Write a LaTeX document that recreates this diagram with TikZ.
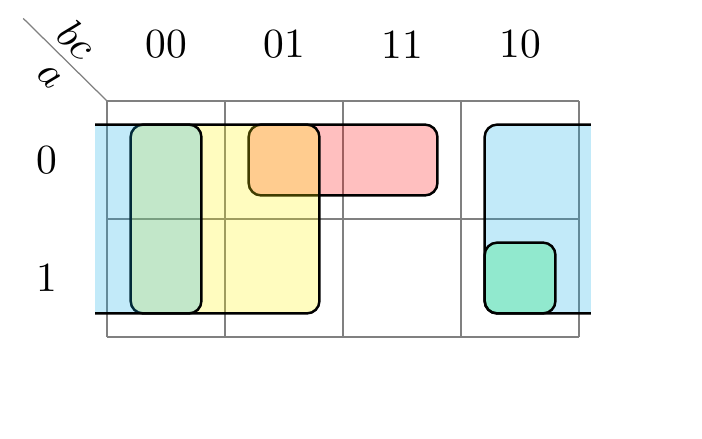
\documentclass[tikz,border=0pt]{standalone}
\definecolor{kmblue}{RGB}{11,171,231}
\definecolor{kmyellow}{RGB}{255,242,0}
\definecolor{kmred}{RGB}{255,0,0}
\definecolor{kmgreen}{RGB}{0,230,80}
\begin{document}
\begin{tikzpicture}[
  % Label styles
  lbl/.style={font=\normalsize, inner sep=1pt},
  corner/.style={lbl, rotate=-45, inner sep=0pt},
  % Grid style
  kmgrid/.style={gray, line width=0.3pt},
  % Group styles
  grp/.style={draw=black, semithick, rounded corners=3pt, fill opacity=0.25},
  grpblue/.style={grp, fill=kmblue},
  grpyellow/.style={grp, fill=kmyellow},
  grpred/.style={grp, fill=kmred},
  grpgreen/.style={grp, fill=kmgreen},
]
\useasboundingbox (-0.907,-2.856) rectangle (5.042,0.856);

% === GRID ===
\draw[kmgrid] (0,-2) grid (4,0);
\draw[kmgrid] (-0.71,0.7) -- (0,0);

% === HEADERS ===
\node[corner] (bc) at (-0.25,0.52)  {$bc$};
\node[corner] (a)  at (-0.49,0.2)   {$a$};
\node[lbl] (c00) at (0.5,0.48) {00};
\node[lbl] (c01) at (1.5,0.48) {01};
\node[lbl] (c11) at (2.5,0.48) {11};
\node[lbl] (c10) at (3.5,0.48) {10};
\node[lbl] (r0) at (-0.51,-0.5) {0};
\node[lbl] (r1) at (-0.51,-1.5) {1};

% === GROUPS ===
% pair (red)
\filldraw[grpred] (1.2,-0.2) rectangle (2.8,-0.8);
% quad (yellow)
\filldraw[grpyellow] (0.2,-0.2) rectangle (1.8,-1.8);
% wrap-around (blue, open at the map edges)
\filldraw[grpblue] (-0.1,-0.2) -- (0.8,-0.2) -- (0.8,-1.8) -- (-0.1,-1.8);
\filldraw[grpblue] (4.1,-0.2) -- (3.2,-0.2) -- (3.2,-1.8) -- (4.1,-1.8);
% single (green)
\filldraw[grpgreen] (3.2,-1.2) rectangle (3.8,-1.8);

\end{tikzpicture}
\end{document}
